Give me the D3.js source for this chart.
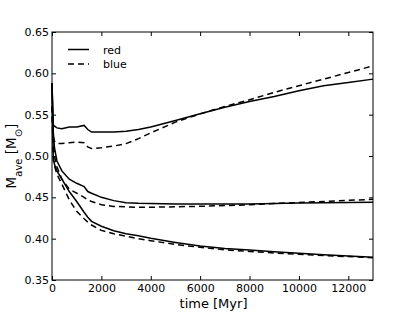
<!DOCTYPE html>
<html lang="en">
<head>
  <meta charset="UTF-8">
  <title>M_ave vs time</title>
  <script src="https://d3js.org/d3.v7.min.js"></script>
  <style>
    body { margin: 0; background: #fff; }
    svg { display: block; font-family: "DejaVu Sans", sans-serif; }
  </style>
</head>
<body>
<svg width="415" height="312"></svg>
<script>
  // time samples (Myr)
  const time = [0, 50, 100, 200, 400, 700, 1000, 1300, 1450, 1600, 2000, 2500, 3000, 3500, 4000,
                5000, 6000, 7000, 8000, 9000, 10000, 11000, 12000, 13000];

  // three pairs of curves, solid = red, dashed = blue
  const redTop = [0.588, 0.538, 0.536, 0.534, 0.533, 0.535, 0.535, 0.537, 0.532, 0.529, 0.529, 0.529, 0.530, 0.532, 0.535,
                  0.543, 0.551, 0.559, 0.566, 0.572, 0.579, 0.585, 0.589, 0.593];
  const blueTop = [0.560, 0.524, 0.518, 0.515, 0.515, 0.516, 0.517, 0.516, 0.511, 0.509, 0.510, 0.512, 0.515, 0.521, 0.528,
                   0.541, 0.551, 0.560, 0.568, 0.577, 0.585, 0.593, 0.601, 0.609];
  const redMid = [0.588, 0.530, 0.510, 0.494, 0.482, 0.472, 0.467, 0.463, 0.457, 0.455, 0.450, 0.446, 0.4435, 0.4428, 0.4425,
                  0.442, 0.4418, 0.4418, 0.442, 0.4425, 0.443, 0.4433, 0.4437, 0.444];
  const blueMid = [0.560, 0.520, 0.500, 0.487, 0.472, 0.460, 0.455, 0.450, 0.447, 0.445, 0.441, 0.439, 0.4385, 0.438, 0.438,
                   0.4385, 0.4392, 0.440, 0.441, 0.4425, 0.4437, 0.445, 0.4463, 0.4476];
  const redLow = [0.588, 0.500, 0.490, 0.482, 0.472, 0.457, 0.445, 0.432, 0.426, 0.421, 0.415, 0.4095, 0.406, 0.4035, 0.4005,
                  0.3955, 0.391, 0.388, 0.3862, 0.3842, 0.3823, 0.3805, 0.379, 0.3775];
  const blueLow = [0.560, 0.495, 0.488, 0.478, 0.466, 0.447, 0.433, 0.424, 0.420, 0.4165, 0.410, 0.406, 0.403, 0.400, 0.3975,
                   0.393, 0.3895, 0.3865, 0.3845, 0.3827, 0.381, 0.3795, 0.3783, 0.377];

  const xTicks = [0, 2000, 4000, 6000, 8000, 10000, 12000];
  const yTicks = [0.35, 0.40, 0.45, 0.50, 0.55, 0.60, 0.65];

  const series = [
    { name: "red", dash: null, values: redTop },
    { name: "blue", dash: "6,4", values: blueTop },
    { name: "red", dash: null, values: redMid },
    { name: "blue", dash: "6,4", values: blueMid },
    { name: "red", dash: null, values: redLow },
    { name: "blue", dash: "6,4", values: blueLow }
  ];

  const m = { left: 52, right: 373, top: 32, bottom: 280 };

  const x = d3.scaleLinear().domain([0, 13000]).range([m.left, m.right]);
  const y = d3.scaleLinear().domain([0.35, 0.65]).range([m.bottom, m.top]);

  const svg = d3.select("svg");

  const line = d3.line()
    .x((d, i) => x(time[i]))
    .y(d => y(d));

  const plot = svg.append("g");
  plot.selectAll("path")
    .data(series)
    .join("path")
    .attr("d", d => line(d.values))
    .attr("fill", "none")
    .attr("stroke", "#000")
    .attr("stroke-width", 1.5)
    .attr("stroke-dasharray", d => d.dash);

  // axes, ticks pointing inward on all four sides
  const fs = 11;
  svg.append("g").attr("transform", `translate(0,${m.bottom})`)
    .call(d3.axisBottom(x).tickValues(xTicks).tickSize(-4).tickPadding(4).tickFormat(d3.format("d")))
    .call(g => g.select(".domain").remove())
    .call(g => g.selectAll("text").attr("font-size", fs).attr("font-family", "DejaVu Sans").attr("fill", "#000"));
  svg.append("g").attr("transform", `translate(0,${m.top})`)
    .call(d3.axisTop(x).tickValues(xTicks).tickSize(-4).tickFormat(""))
    .call(g => g.select(".domain").remove());
  svg.append("g").attr("transform", `translate(${m.left},0)`)
    .call(d3.axisLeft(y).tickValues(yTicks).tickSize(-4).tickPadding(3).tickFormat(d3.format(".2f")))
    .call(g => g.select(".domain").remove())
    .call(g => g.selectAll("text").attr("font-size", fs).attr("font-family", "DejaVu Sans").attr("fill", "#000"));
  svg.append("g").attr("transform", `translate(${m.right},0)`)
    .call(d3.axisRight(y).tickValues(yTicks).tickSize(-4).tickFormat(""))
    .call(g => g.select(".domain").remove());

  svg.append("rect")
    .attr("x", m.left).attr("y", m.top)
    .attr("width", m.right - m.left).attr("height", m.bottom - m.top)
    .attr("fill", "none").attr("stroke", "#000").attr("stroke-width", 1);

  // axis labels
  svg.append("text")
    .attr("x", 213.5).attr("y", 308)
    .attr("text-anchor", "middle")
    .attr("font-size", 13)
    .text("time [Myr]");

  const yl = svg.append("text")
    .attr("transform", `translate(16,${(m.top + m.bottom) / 2}) rotate(-90)`)
    .attr("text-anchor", "middle")
    .attr("font-size", 13.5);
  yl.append("tspan").text("M");
  yl.append("tspan").attr("baseline-shift", "sub").attr("font-size", 10).text("ave");
  yl.append("tspan").text(" [M");
  yl.append("tspan").attr("baseline-shift", "sub").attr("font-size", 10).text("\u2299");
  yl.append("tspan").text("]");

  // legend
  const legend = svg.append("g");
  const legItems = [{ name: "red", dash: null }, { name: "blue", dash: "6,4" }];
  legItems.forEach((d, i) => {
    const ly = 49.5 + i * 14.5;
    legend.append("line")
      .attr("x1", 68).attr("x2", 89).attr("y1", ly).attr("y2", ly)
      .attr("stroke", "#000").attr("stroke-width", 1.5)
      .attr("stroke-dasharray", d.dash);
    legend.append("text")
      .attr("x", 103).attr("y", ly + 4)
      .attr("font-size", 11)
      .text(d.name);
  });
</script>
</body>
</html>
